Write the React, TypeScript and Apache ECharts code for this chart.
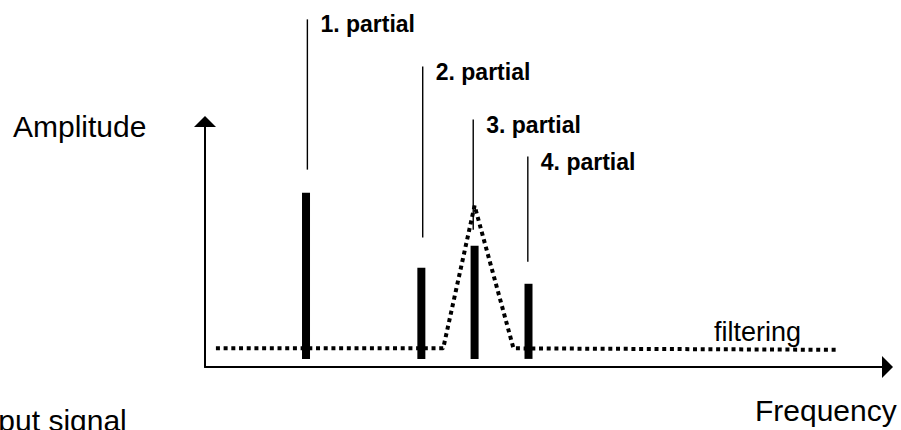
import React, { useEffect, useRef } from "react";
import * as echarts from "echarts";

// Partials (schematic frequency / amplitude units)
const partialNames = ["1. partial", "2. partial", "3. partial", "4. partial"];
const partialFreq = [14.8, 31.7, 39.5, 47.4];
const partialAmp = [71.0, 40.4, 49.4, 33.9];
const barBase = 3.3;

// Leader lines above each partial
const leaderFreq = [15.0, 31.9, 39.3, 47.3];
const leaderBottom = [80.4, 52.7, 55.9, 42.9];
const leaderTop = [141.6, 122.4, 100.8, 85.7];

// Filter curve (dotted)
const filterFreq = [1.6, 34.9, 39.5, 45.2, 92.7];
const filterAmp = [7.6, 7.6, 65.7, 7.6, 7.0];

const FONT = '"Liberation Sans", Arial, Helvetica, sans-serif';

export default function App() {
  const ref = useRef<HTMLDivElement>(null);

  useEffect(() => {
    if (!ref.current) return;
    const chart = echarts.init(ref.current, null, { renderer: "svg" });

    const axisLine = {
      show: true,
      onZero: false,
      symbol: ["none", "triangle"],
      symbolSize: [22, 11],
      lineStyle: { color: "#000", width: 2 },
    };

    chart.setOption({
      animation: false,
      backgroundColor: "#fff",
      grid: { left: 205, right: 13.5, top: 121.5, bottom: 63 },
      xAxis: {
        type: "value",
        min: 0,
        max: 100,
        axisLine,
        axisTick: { show: false },
        axisLabel: { show: false },
        splitLine: { show: false },
      },
      yAxis: {
        type: "value",
        min: 0,
        max: 100,
        axisLine,
        axisTick: { show: false },
        axisLabel: { show: false },
        splitLine: { show: false },
      },
      series: [
        {
          type: "line",
          name: "filtering",
          data: filterFreq.map((f, i) => [f, filterAmp[i]]),
          symbol: "none",
          z: 3,
          lineStyle: { color: "#000", width: 4, type: [4, 3.7], cap: "butt" },
        },
        {
          type: "custom",
          name: "partials",
          clip: false,
          z: 4,
          data: partialFreq.map((f, i) => [f, partialAmp[i], barBase]),
          renderItem: (params: any, api: any) => {
            const x = api.value(0);
            const top = api.coord([x, api.value(1)]);
            const base = api.coord([x, api.value(2)]);
            return {
              type: "rect",
              shape: { x: top[0] - 4, y: top[1], width: 8, height: base[1] - top[1] },
              style: { fill: "#000" },
            };
          },
        },
        {
          type: "custom",
          name: "labels",
          clip: false,
          z: 5,
          data: leaderFreq.map((f, i) => [f, leaderBottom[i], leaderTop[i]]),
          renderItem: (params: any, api: any) => {
            const x = api.value(0);
            const b = api.coord([x, api.value(1)]);
            const t = api.coord([x, api.value(2)]);
            return {
              type: "group",
              children: [
                {
                  type: "line",
                  shape: { x1: t[0], y1: t[1], x2: b[0], y2: b[1] },
                  style: { stroke: "#000", lineWidth: 1.4 },
                },
                {
                  type: "text",
                  x: t[0] + 13,
                  y: t[1] + 5,
                  style: {
                    text: partialNames[params.dataIndex],
                    fontFamily: FONT,
                    fontWeight: "bold",
                    fontSize: 23,
                    fill: "#000",
                    align: "left",
                    verticalAlign: "middle",
                  },
                },
              ],
            };
          },
        },
      ],
      graphic: [
        {
          type: "text",
          left: 13,
          top: 128 - 17,
          style: { text: "Amplitude", fontFamily: FONT, fontSize: 30, fill: "#000" },
        },
        {
          type: "text",
          left: 755,
          top: 412 - 17,
          style: { text: "Frequency", fontFamily: FONT, fontSize: 30, fill: "#000" },
        },
        {
          type: "text",
          x: -50,
          y: 420,
          style: {
            text: "Output signal",
            fontFamily: FONT,
            fontSize: 30,
            fill: "#000",
            align: "left",
            verticalAlign: "middle",
          },
        },
        {
          type: "text",
          x: 714,
          y: 332,
          style: {
            text: "filtering",
            fontFamily: FONT,
            fontSize: 27,
            fill: "#000",
            align: "left",
            verticalAlign: "middle",
          },
        },
      ],
    });

    return () => chart.dispose();
  }, []);

  return (
    <div
      ref={ref}
      style={{ position: "fixed", left: 0, top: 0, width: 901, height: 430 }}
    />
  );
}
